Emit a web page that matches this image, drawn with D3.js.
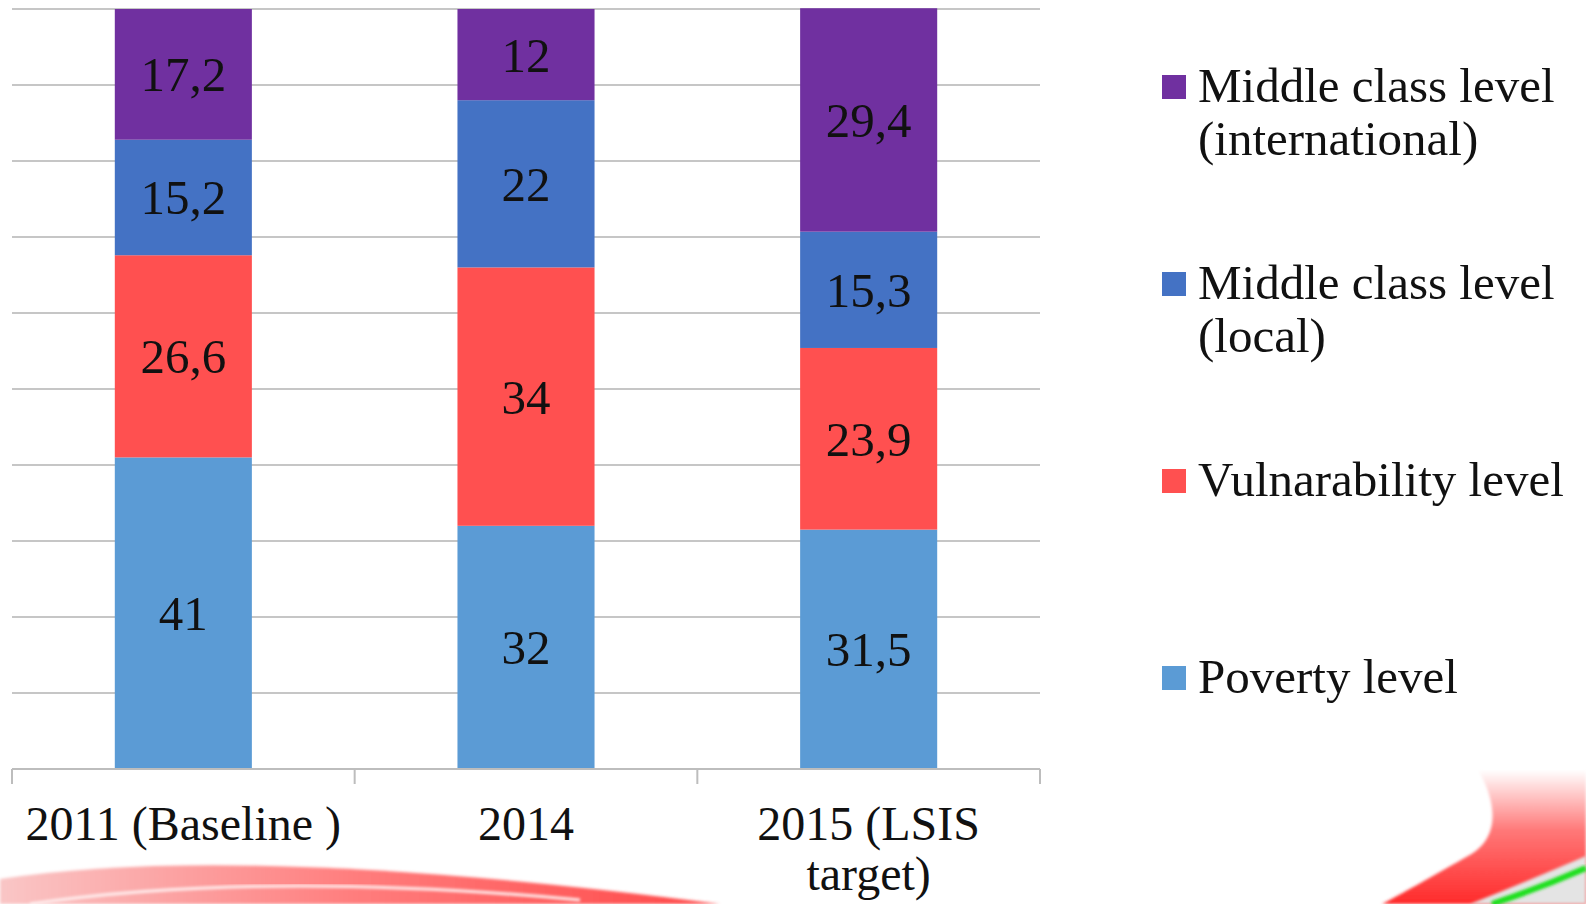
<!DOCTYPE html>
<html>
<head>
<meta charset="utf-8">
<script src="https://cdn.jsdelivr.net/npm/d3@7"></script>
<style>
  html, body { margin: 0; padding: 0; background: #ffffff; }
  svg { display: block; }
  text { font-family: "Liberation Serif", "Times New Roman", serif; fill: #111; }
</style>
</head>
<body>
<svg id="chart" width="1586" height="904"></svg>
<script>
// Categories (x axis), each label split into lines
const categories = ["2011 (Baseline )", "2014", "2015 (LSIS target)"];
const categoryLines = [["2011 (Baseline )"], ["2014"], ["2015 (LSIS", "target)"]];

// Series, stacked bottom to top
const seriesNames = [
  "Poverty level",
  "Vulnarability level",
  "Middle class level (local)",
  "Middle class level (international)"
];
const legendLines = [
  ["Poverty level"],
  ["Vulnarability level"],
  ["Middle class level", "(local)"],
  ["Middle class level", "(international)"]
];
const poverty       = [41, 32, 31.5];
const vulnerability = [26.6, 34, 23.9];
const middleLocal   = [15.2, 22, 15.3];
const middleIntl    = [17.2, 12, 29.4];
const seriesColors  = ["#5B9BD5", "#FF5050", "#4472C4", "#7030A0"];

// Value axis ticks (percent)
const yTicks = [0, 10, 20, 30, 40, 50, 60, 70, 80, 90, 100];

const svg = d3.select("#chart");

// ---- decorative slide swooshes along the bottom ----
const defs = svg.append("defs");
const gLeft = defs.append("linearGradient").attr("id", "swooshLeft")
  .attr("x1", "0").attr("y1", "0").attr("x2", "1").attr("y2", "0");
gLeft.append("stop").attr("offset", "0").attr("stop-color", "#f9c6c6");
gLeft.append("stop").attr("offset", "0.5").attr("stop-color", "#ff7c7c");
gLeft.append("stop").attr("offset", "1").attr("stop-color", "#ff4848");
const gRight = defs.append("linearGradient").attr("id", "swooshRight")
  .attr("x1", "0").attr("y1", "0").attr("x2", "0").attr("y2", "1");
gRight.append("stop").attr("offset", "0").attr("stop-color", "#ffffff");
gRight.append("stop").attr("offset", "0.45").attr("stop-color", "#ff7878");
gRight.append("stop").attr("offset", "1").attr("stop-color", "#ff2a2a");
defs.append("filter").attr("id", "soft").append("feGaussianBlur").attr("stdDeviation", 1.5);

const deco = svg.append("g").attr("class", "decoration");
deco.append("path")
  .attr("d", "M0,879 Q240,842 720,904 L0,904 Z")
  .attr("fill", "url(#swooshLeft)").attr("filter", "url(#soft)");
deco.append("path")
  .attr("d", "M30,904 Q260,870 580,900")
  .attr("fill", "none").attr("stroke", "#fff0f0").attr("stroke-width", 3).attr("filter", "url(#soft)");
deco.append("path")
  .attr("d", "M1478,770 C1496,800 1502,838 1468,856 C1440,872 1405,892 1382,904 L1586,904 L1586,770 Z")
  .attr("fill", "url(#swooshRight)").attr("filter", "url(#soft)");
deco.append("path")
  .attr("d", "M1470,904 Q1530,880 1586,856 L1586,904 Z")
  .attr("fill", "#e4e4e4").attr("filter", "url(#soft)");
deco.append("path")
  .attr("d", "M1492,904 Q1540,888 1586,868")
  .attr("fill", "none").attr("stroke", "#1ee01e").attr("stroke-width", 6).attr("filter", "url(#soft)");

// ---- chart ----
const plot = { left: 12, right: 1040, top: 9, bottom: 769 };

const x = d3.scaleBand().domain(categories).range([plot.left, plot.right]).paddingInner(0.6).paddingOuter(0.3);
const xGroup = d3.scaleBand().domain(categories).range([plot.left, plot.right]);
const y = d3.scaleLinear().domain([0, 100]).range([plot.bottom, plot.top]);

// Gridlines
svg.append("g").attr("class", "grid")
  .selectAll("line").data(yTicks.filter(t => t > 0)).join("line")
  .attr("x1", plot.left).attr("x2", plot.right)
  .attr("y1", d => y(d)).attr("y2", d => y(d))
  .attr("stroke", "#c6c6c6").attr("stroke-width", 2);

// Stacked data
const rows = categories.map((c, i) => ({
  category: c,
  [seriesNames[0]]: poverty[i],
  [seriesNames[1]]: vulnerability[i],
  [seriesNames[2]]: middleLocal[i],
  [seriesNames[3]]: middleIntl[i]
}));
const stacked = d3.stack().keys(seriesNames)(rows);
const fmt = v => String(v).replace(".", ",");

const layers = svg.append("g").attr("class", "bars")
  .selectAll("g").data(stacked).join("g")
  .attr("fill", (d, i) => seriesColors[i]);

layers.selectAll("rect").data(d => d).join("rect")
  .attr("x", d => x(d.data.category))
  .attr("width", x.bandwidth())
  .attr("y", d => y(d[1]))
  .attr("height", d => y(d[0]) - y(d[1]));

layers.selectAll("text").data(d => d.map(s => ({ s, key: d.key }))).join("text")
  .attr("x", d => x(d.s.data.category) + x.bandwidth() / 2)
  .attr("y", d => (y(d.s[0]) + y(d.s[1])) / 2 + 17)
  .attr("text-anchor", "middle")
  .attr("font-size", 49)
  .text(d => fmt(d.s.data[d.key]));

// Category axis
const axis = svg.append("g").attr("class", "x-axis");
axis.append("line")
  .attr("x1", plot.left).attr("x2", plot.right)
  .attr("y1", plot.bottom).attr("y2", plot.bottom)
  .attr("stroke", "#bdbdbd").attr("stroke-width", 2);
const tickXs = categories.map(c => xGroup(c)).concat([plot.right]);
axis.selectAll("line.tick").data(tickXs).join("line").attr("class", "tick")
  .attr("x1", d => d).attr("x2", d => d)
  .attr("y1", plot.bottom).attr("y2", plot.bottom + 15)
  .attr("stroke", "#bdbdbd").attr("stroke-width", 2);

// One text element per label line
const catLineData = [];
categories.forEach((c, i) => categoryLines[i].forEach((line, j) => catLineData.push({ c, line, j })));
axis.selectAll("text").data(catLineData).join("text")
  .attr("text-anchor", "middle")
  .attr("font-size", 48)
  .attr("x", d => xGroup(d.c) + xGroup.bandwidth() / 2)
  .attr("y", d => 840 + d.j * 50)
  .text(d => d.line);

// Legend: top entry is the top of the stack
const legendOrder = [3, 2, 1, 0];
const legend = svg.append("g").attr("class", "legend")
  .selectAll("g").data(legendOrder).join("g")
  .attr("transform", (d, i) => `translate(1162, ${102 + i * 197})`);
legend.append("rect")
  .attr("x", 0).attr("y", -27).attr("width", 24).attr("height", 24)
  .attr("fill", d => seriesColors[d]);
legend.each(function (d) {
  const g = d3.select(this);
  legendLines[d].forEach((line, j) => {
    g.append("text").attr("x", 36).attr("y", j * 53)
      .attr("font-size", 49).text(line);
  });
});
</script>
</body>
</html>
